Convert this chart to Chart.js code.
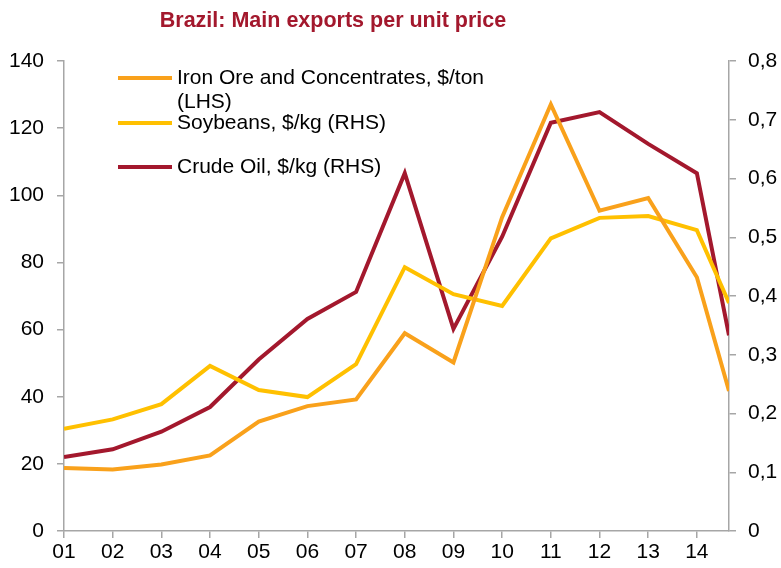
<!DOCTYPE html>
<html>
<head>
<meta charset="utf-8">
<script src="https://cdn.jsdelivr.net/npm/chart.js@4.4.1/dist/chart.umd.min.js"></script>
<style>
  html, body { margin: 0; padding: 0; background: #fff; }
  #wrap { width: 781px; height: 568px; }
</style>
</head>
<body>
<div id="wrap"><canvas id="myChart" width="781" height="568"></canvas></div>
<script>
// years 2001-2014, last point is 2015 year-to-date
const years = [1, 2, 3, 4, 5, 6, 7, 8, 9, 10, 11, 12, 13, 14, 14.66];
const ironOre = [18.8, 18.3, 19.8, 22.5, 32.6, 37.2, 39.2, 58.9, 50.2, 93.5, 127.1, 95.4, 99.2, 75.6, 41.7];
const soybeans = [0.174, 0.190, 0.216, 0.281, 0.240, 0.228, 0.284, 0.449, 0.403, 0.383, 0.498, 0.533, 0.536, 0.512, 0.388];
const crudeOil = [0.126, 0.139, 0.169, 0.211, 0.292, 0.361, 0.407, 0.609, 0.344, 0.501, 0.695, 0.713, 0.659, 0.609, 0.333];

const leftTicks = [0, 140, 20];
const rightTicks = [0, 0.8, 0.1];

const axisColor = "#a6a6a6";
const font = { family: "'Liberation Sans', Arial, sans-serif", size: 21 };

function pts(vals) {
  return vals.map(function (v, i) { return { x: years[i], y: v }; });
}

const data = {
  datasets: [
    {
      label: ["Iron Ore and Concentrates, $/ton", "(LHS)"],
      data: pts(ironOre),
      borderColor: "#f9a11b",
      yAxisID: "y",
    },
    {
      label: ["Soybeans, $/kg (RHS)"],
      data: pts(soybeans),
      borderColor: "#ffc000",
      yAxisID: "y1",
    },
    {
      label: ["Crude Oil, $/kg (RHS)"],
      data: pts(crudeOil),
      borderColor: "#a3182d",
      yAxisID: "y1",
    },
  ],
};

// title + legend drawn by hand
const extras = {
  id: "extras",
  afterDraw(chart) {
    const ctx = chart.ctx;
    ctx.save();
    ctx.fillStyle = "#a3182d";
    ctx.font = "bold 21.5px 'Liberation Sans Narrow', 'Liberation Sans', Arial, sans-serif";
    ctx.textAlign = "center";
    ctx.textBaseline = "middle";
    ctx.fillText("Brazil: Main exports per unit price", 333, 21);

    const rows = [78, 123, 167];
    ctx.font = "21px 'Liberation Sans', Arial, sans-serif";
    ctx.textAlign = "left";
    chart.data.datasets.forEach(function (ds, i) {
      ctx.strokeStyle = ds.borderColor;
      ctx.lineWidth = 4;
      ctx.beginPath();
      ctx.moveTo(118, rows[i]);
      ctx.lineTo(172, rows[i]);
      ctx.stroke();
      ctx.fillStyle = "#000";
      ds.label.forEach(function (t, j) {
        ctx.fillText(t, 177, rows[i] + j * 24);
      });
    });
    ctx.restore();
  },
};

const config = {
  type: "line",
  data: data,
  options: {
    responsive: false,
    animation: false,
    layout: { padding: { top: 61, left: 0, right: 0, bottom: 0 } },
    elements: {
      line: { borderWidth: 4, tension: 0 },
      point: { radius: 0 },
    },
    plugins: { legend: { display: false }, tooltip: { enabled: false } },
    scales: {
      x: {
        type: "linear",
        min: years[0],
        max: years[years.length - 1],
        border: { color: axisColor, width: 1.5 },
        grid: { drawOnChartArea: false, tickLength: 7, color: axisColor, lineWidth: 1.5 },
        ticks: {
          stepSize: 1,
          includeBounds: false,
          autoSkip: false,
          maxRotation: 0,
          padding: 2,
          color: "#000",
          font: font,
          callback: function (v) { return String(v).padStart(2, "0"); },
        },
        afterFit: function (s) { s.height = 37; },
      },
      y: {
        position: "left",
        min: leftTicks[0],
        max: leftTicks[1],
        border: { color: axisColor, width: 1.5 },
        grid: { drawOnChartArea: false, tickLength: 7, color: axisColor, lineWidth: 1.5 },
        ticks: { stepSize: leftTicks[2], padding: 13, color: "#000", font: font },
        afterFit: function (s) { s.width = 64; },
      },
      y1: {
        position: "right",
        min: rightTicks[0],
        max: rightTicks[1],
        border: { color: axisColor, width: 1.5 },
        grid: { drawOnChartArea: false, tickLength: 7, color: axisColor, lineWidth: 1.5 },
        ticks: {
          stepSize: rightTicks[2],
          padding: 12,
          color: "#000",
          font: font,
          callback: function (v) {
            return v === 0 ? "0" : (Math.round(v * 10) / 10).toFixed(1).replace(".", ",");
          },
        },
        afterFit: function (s) { s.width = 52; },
      },
    },
  },
  plugins: [extras],
};

var myChart = new Chart(document.getElementById("myChart"), config);
</script>
</body>
</html>
